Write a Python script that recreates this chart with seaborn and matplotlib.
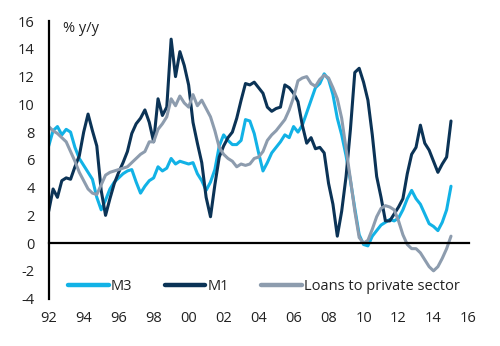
import numpy as np
import pandas as pd
import matplotlib
matplotlib.use("Agg")
import matplotlib.pyplot as plt
import seaborn as sns

# Quarterly observations, 1992Q1 .. 2015Q1
start_year = 1992
step = 0.25

m1 = [2.3, 3.9, 3.3, 4.5, 4.7, 4.6, 5.5, 6.3, 8.0, 9.3, 8.1, 7.0,
      3.8, 2.0, 3.2, 4.3, 5.1, 5.8, 6.6, 7.9, 8.6, 9.0, 9.6, 8.7,
      7.3, 10.4, 9.2, 9.8, 14.7, 12.0, 13.8, 12.8, 11.4, 8.7, 7.2, 5.8,
      3.3, 1.9, 4.2, 6.2, 7.0, 7.6, 8.0, 9.0, 10.3, 11.5, 11.4, 11.6,
      11.2, 10.8, 9.8, 9.5, 9.7, 9.8, 11.4, 11.2, 10.8, 10.2, 8.5, 7.2,
      7.6, 6.8, 6.9, 6.5, 4.3, 2.8, 0.5, 2.3, 4.8, 8.2, 12.3, 12.6,
      11.6, 10.3, 7.8, 4.8, 3.3, 1.6, 1.6, 2.1, 2.6, 3.2, 5.0, 6.4,
      6.9, 8.5, 7.2, 6.7, 5.9, 5.1, 5.7, 6.2, 8.8]

m3 = [7.0, 8.1, 8.4, 7.8, 8.2, 8.0, 6.9, 6.1, 5.6, 5.1, 4.6, 3.3,
      2.4, 3.1, 3.9, 4.4, 4.7, 5.0, 5.2, 5.3, 4.4, 3.6, 4.1, 4.5,
      4.7, 5.5, 5.2, 5.4, 6.1, 5.7, 5.9, 5.8, 5.7, 5.8, 5.0, 4.5,
      3.8, 4.4, 5.3, 7.0, 7.8, 7.4, 7.1, 7.1, 7.4, 8.9, 8.8, 7.9,
      6.5, 5.2, 5.8, 6.5, 6.9, 7.3, 7.8, 7.6, 8.4, 8.0, 8.5, 9.4,
      10.3, 11.2, 11.5, 12.2, 11.8, 10.7, 9.0, 7.8, 6.3, 4.5, 2.5, 0.6,
      -0.1, -0.2, 0.5, 0.9, 1.3, 1.5, 1.7, 1.6, 1.8, 2.4, 3.2, 3.8,
      3.2, 2.8, 2.1, 1.4, 1.2, 0.9, 1.5, 2.4, 4.1]

loans = [8.4, 8.1, 7.9, 7.6, 7.3, 6.6, 5.9, 5.1, 4.5, 3.9, 3.6, 3.5,
         4.2, 4.9, 5.1, 5.2, 5.3, 5.4, 5.5, 5.8, 6.1, 6.4, 6.6, 7.3,
         7.3, 8.2, 8.6, 9.1, 10.4, 9.9, 10.6, 10.1, 9.8, 10.7, 9.9, 10.3,
         9.7, 9.1, 8.1, 6.9, 6.4, 6.1, 5.9, 5.5, 5.7, 5.6, 5.7, 6.1,
         6.2, 6.6, 7.4, 7.8, 8.1, 8.5, 8.9, 9.6, 10.5, 11.7, 11.9, 12.0,
         11.5, 11.3, 11.8, 12.1, 11.9, 11.2, 10.4, 9.0, 6.8, 4.6, 2.3, 0.4,
         0.0, 0.2, 1.0, 1.9, 2.5, 2.7, 2.6, 2.4, 1.6, 0.6, -0.1, -0.4,
         -0.4, -0.7, -1.2, -1.7, -2.0, -1.7, -1.1, -0.4, 0.5]

series_names = ["M3", "M1", "Loans to private sector"]
series_colors = ["#12b2e6", "#0b3356", "#8d9cae"]
x_tick_labels = ["92", "94", "96", "98", "00", "02", "04", "06", "08",
                 "10", "12", "14", "16"]

t = start_year + step * np.arange(len(m1))
df = pd.concat([
    pd.DataFrame({"t": t, "v": m3, "s": "M3"}),
    pd.DataFrame({"t": t, "v": m1, "s": "M1"}),
    pd.DataFrame({"t": t, "v": loans, "s": "Loans to private sector"}),
])

sns.set_style("white")
plt.rcParams["font.family"] = ["Open Sans", "DejaVu Sans"]

fig = plt.figure(figsize=(5.0, 3.46), dpi=100)
ax = fig.add_axes([0.0974, 0.137, 0.8396, 0.802])

sns.lineplot(data=df, x="t", y="v", hue="s", hue_order=series_names,
             palette=series_colors, linewidth=2.2, ax=ax, legend=False,
             sort=False)

ax.set_xlim(1992, 2016)
ax.set_ylim(-4, 16)
ax.set_xlabel("")
ax.set_ylabel("")

for side in ["top", "right"]:
    ax.spines[side].set_visible(False)
ax.spines["left"].set_linewidth(1.6)
ax.spines["left"].set_color("#000000")
ax.spines["bottom"].set_position(("data", 0))
ax.spines["bottom"].set_linewidth(1.6)
ax.spines["bottom"].set_color("#000000")

ax.set_yticks(np.arange(-4, 17, 2))
ax.set_yticklabels([str(v) for v in range(-4, 17, 2)])
ax.tick_params(axis="y", direction="out", length=4, width=1.4,
               color="#000000", pad=6, labelsize=10.5, labelcolor="#222222")
ax.set_xticks(np.arange(1992, 2017, 1))
ax.tick_params(axis="x", direction="out", length=2.5, width=1.4,
               color="#000000", labelbottom=False)

sec = ax.secondary_xaxis("bottom")
sec.set_xticks(np.arange(1992, 2017, 2))
sec.set_xticklabels(x_tick_labels)
sec.tick_params(length=0, pad=9, labelsize=10.5, labelcolor="#222222")
sec.spines["bottom"].set_visible(False)

ax.text(0.034, 0.972, "% y/y", transform=ax.transAxes, ha="left",
        va="center", fontsize=10.5, color="#222222")

handles = [plt.Line2D([], [], color=c, lw=3.2) for c in series_colors]
ax.legend(handles, series_names, loc="center left",
          bbox_to_anchor=(0.046, 0.045), ncol=3, frameon=False,
          fontsize=10.5, handlelength=2.8, handletextpad=0.15,
          columnspacing=2.2, borderpad=0, borderaxespad=0,
          labelcolor="#222222")

fig.savefig("out.png", dpi=100)
